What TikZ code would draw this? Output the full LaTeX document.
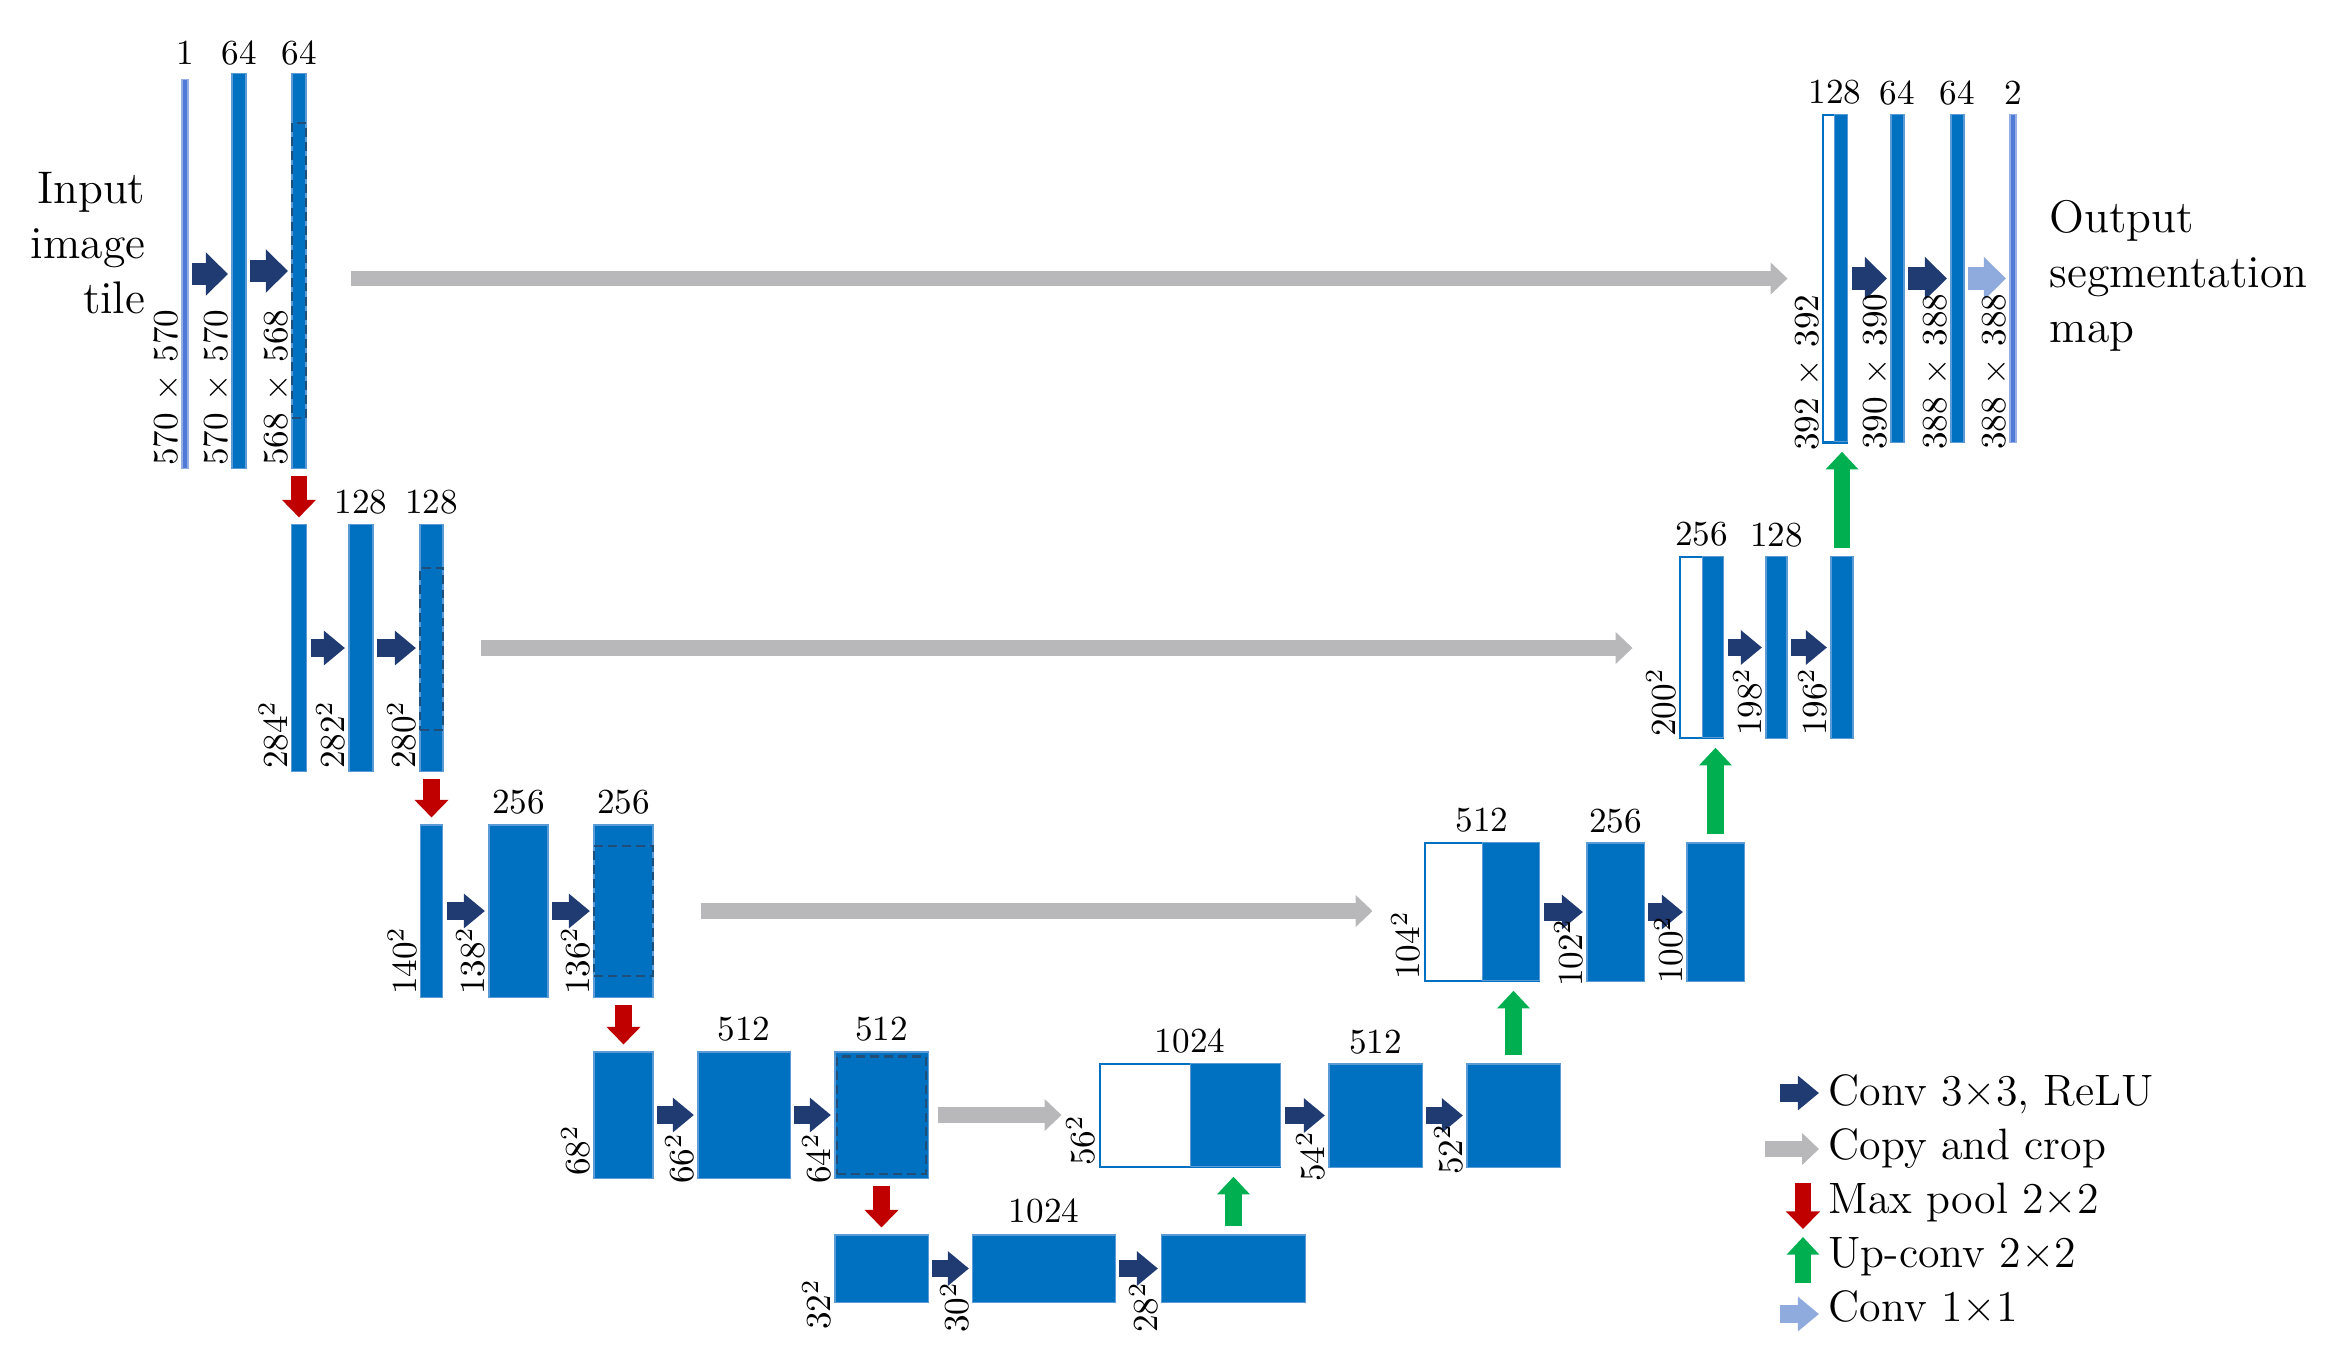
\documentclass[tikz,border=0pt]{standalone}
\usetikzlibrary{arrows.meta}

\definecolor{ublue}{HTML}{0070C0}
\definecolor{uedge}{HTML}{5B9BD5}
\definecolor{thinblue}{HTML}{4F7AD6}
\definecolor{cropblue}{HTML}{1F4E79}
\definecolor{convblue}{HTML}{203A72}
\definecolor{copygray}{HTML}{B8B8BA}
\definecolor{poolred}{HTML}{C00000}
\definecolor{upgreen}{HTML}{00B050}
\definecolor{outblue}{HTML}{8FAADC}

\tikzset{
  blk/.style={rectangle, fill=ublue, draw=uedge, line width=0.3pt, inner sep=0pt},
  thinblk/.style={rectangle, fill=thinblue, draw=thinblue!60!white, line width=0.3pt, inner sep=0pt},
  catbox/.style={rectangle, fill=white, draw=ublue, line width=0.8pt, inner sep=0pt},
  cropbox/.style={rectangle, draw=cropblue, dash pattern=on 2.5pt off 1.5pt, line width=0.6pt, inner sep=0pt},
  chlbl/.style={anchor=base, inner sep=0pt, font=\fontsize{10}{12}\selectfont},
  dimlbl/.style={rotate=90, anchor=south west, inner sep=0.6pt, font=\fontsize{10}{12}\selectfont},
  sidetxt/.style={inner sep=0pt, font=\fontsize{13}{15.6}\selectfont},
  legtxt/.style={anchor=base west, inner sep=0pt, font=\fontsize{12.5}{15}\selectfont},
  convarrow/.style={draw=convblue, line width=5pt, -{Triangle[length=6pt,width=9.5pt]}, shorten <=1pt, shorten >=1pt},
  convbig/.style={convarrow, line width=6.3pt, -{Triangle[length=6.3pt,width=12pt]}},
  outarrow/.style={convbig, draw=outblue},
  copyarrow/.style={draw=copygray, line width=4.3pt, -{Triangle[length=4.8pt,width=8.8pt]}},
  poolarrow/.style={draw=poolred, line width=4.8pt, -{Triangle[length=5pt,width=9.4pt]}, shorten <=0.07cm, shorten >=0.07cm},
  uparrow/.style={draw=upgreen, line width=4.8pt, -{Triangle[length=5pt,width=9pt]}, shorten <=0.08cm, shorten >=0.1cm},
}

\begin{document}
\begin{tikzpicture}[x=0.01cm, y=-0.01cm]
    \useasboundingbox (0,0) rectangle (2347,1356);

    % Contracting path, level 1
    \node[thinblk, minimum width=0.06cm, minimum height=3.88cm] (in0) at (185,274) {};
    \node[blk, minimum width=0.14cm, minimum height=3.94cm] (d1a) at (239,271) {};
    \node[blk, minimum width=0.14cm, minimum height=3.94cm] (d1b) at (299,271) {};
    \node[cropbox, minimum width=0.14cm, minimum height=2.95cm] (d1k) at (299,270.5) {};

    % Level 2
    \node[blk, minimum width=0.15cm, minimum height=2.46cm] (d2a) at (299,648) {};
    \node[blk, minimum width=0.24cm, minimum height=2.46cm] (d2b) at (361,648) {};
    \node[blk, minimum width=0.23cm, minimum height=2.46cm] (d2c) at (431.5,648) {};
    \node[cropbox, minimum width=0.23cm, minimum height=1.62cm] (d2k) at (431.5,649) {};

    % Level 3
    \node[blk, minimum width=0.22cm, minimum height=1.72cm] (d3a) at (431.5,911) {};
    \node[blk, minimum width=0.59cm, minimum height=1.72cm] (d3b) at (518.5,911) {};
    \node[blk, minimum width=0.59cm, minimum height=1.72cm] (d3c) at (623.5,911) {};
    \node[cropbox, minimum width=0.59cm, minimum height=1.30cm] (d3k) at (623.5,911) {};

    % Level 4
    \node[blk, minimum width=0.59cm, minimum height=1.26cm] (d4a) at (623.5,1115) {};
    \node[blk, minimum width=0.92cm, minimum height=1.26cm] (d4b) at (744,1115) {};
    \node[blk, minimum width=0.93cm, minimum height=1.26cm] (d4c) at (881.5,1115) {};
    \node[cropbox, minimum width=0.89cm, minimum height=1.17cm] (d4k) at (881.5,1115) {};

    % Bottom level
    \node[blk, minimum width=0.93cm, minimum height=0.67cm] (d5a) at (881.5,1268.5) {};
    \node[blk, minimum width=1.42cm, minimum height=0.67cm] (d5b) at (1044,1268.5) {};
    \node[blk, minimum width=1.43cm, minimum height=0.67cm] (d5c) at (1233.5,1268.5) {};

    % Expanding path, level 4
    \node[catbox, minimum width=1.80cm, minimum height=1.03cm] (u4) at (1190,1115.5) {};
    \node[blk, minimum width=0.90cm, minimum height=1.03cm, anchor=north east] (u4x) at (u4.north east) {};
    \node[blk, minimum width=0.93cm, minimum height=1.03cm] (u4b) at (1375.5,1115.5) {};
    \node[blk, minimum width=0.93cm, minimum height=1.03cm] (u4c) at (1513.5,1115.5) {};

    % Level 3
    \node[catbox, minimum width=1.14cm, minimum height=1.38cm] (u3) at (1482,912) {};
    \node[blk, minimum width=0.57cm, minimum height=1.38cm, anchor=north east] (u3x) at (u3.north east) {};
    \node[blk, minimum width=0.57cm, minimum height=1.38cm] (u3b) at (1615.5,912) {};
    \node[blk, minimum width=0.57cm, minimum height=1.38cm] (u3c) at (1715.5,912) {};

    % Level 2
    \node[catbox, minimum width=0.43cm, minimum height=1.81cm] (u2) at (1701.5,647.5) {};
    \node[blk, minimum width=0.21cm, minimum height=1.81cm, anchor=north east] (u2x) at (u2.north east) {};
    \node[blk, minimum width=0.21cm, minimum height=1.81cm] (u2b) at (1776.5,647.5) {};
    \node[blk, minimum width=0.22cm, minimum height=1.81cm] (u2c) at (1842,647.5) {};

    % Level 1
    \node[catbox, minimum width=0.24cm, minimum height=3.27cm] (u1) at (1835,278.5) {};
    \node[blk, minimum width=0.13cm, minimum height=3.27cm, anchor=north east] (u1x) at (u1.north east) {};
    \node[blk, minimum width=0.13cm, minimum height=3.27cm] (u1b) at (1897.5,278.5) {};
    \node[blk, minimum width=0.13cm, minimum height=3.27cm] (u1c) at (1957.5,278.5) {};
    \node[thinblk, minimum width=0.06cm, minimum height=3.27cm] (out) at (2013,278.5) {};

    % Conv 3x3 arrows
    \draw[convbig] (in0.east) -- (in0.east -| d1a.west);
    \draw[convbig] (d1a.east) -- (d1b.west);
    \draw[convarrow] (d2a.east) -- (d2b.west);
    \draw[convarrow] (d2b.east) -- (d2c.west);
    \draw[convarrow] (d3a.east) -- (d3b.west);
    \draw[convarrow] (d3b.east) -- (d3c.west);
    \draw[convarrow] (d4a.east) -- (d4b.west);
    \draw[convarrow] (d4b.east) -- (d4c.west);
    \draw[convarrow] (d5a.east) -- (d5b.west);
    \draw[convarrow] (d5b.east) -- (d5c.west);
    \draw[convarrow] (u4.east) -- (u4b.west);
    \draw[convarrow] (u4b.east) -- (u4c.west);
    \draw[convarrow] (u3.east) -- (u3b.west);
    \draw[convarrow] (u3b.east) -- (u3c.west);
    \draw[convarrow] (u2.east) -- (u2b.west);
    \draw[convarrow] (u2b.east) -- (u2c.west);
    \draw[convbig] (u1.east) -- (u1b.west);
    \draw[convbig] (u1b.east) -- (u1c.west);
    \draw[outarrow] (u1c.east) -- (out.west);

    % Max pool arrows
    \draw[poolarrow] (d1b.south) -- (d2a.north);
    \draw[poolarrow] (d2c.south) -- (d3a.north);
    \draw[poolarrow] (d3c.south) -- (d4a.north);
    \draw[poolarrow] (d4c.south) -- (d5a.north);

    % Up-conv arrows
    \draw[uparrow] (d5c.north) -- (d5c.north |- u4x.south);
    \draw[uparrow] (u4c.north) -- (u4c.north |- u3x.south);
    \draw[uparrow] (u3c.north) -- (u3c.north |- u2x.south);
    \draw[uparrow] (u2c.north) -- (u2c.north |- u1x.south);

    % Copy and crop arrows
    \draw[copyarrow, shorten <=0.44cm, shorten >=0.34cm] (d1b.east |- u1.west) -- (u1.west);
    \draw[copyarrow, shorten <=0.37cm, shorten >=0.46cm] (d2c.east) -- (d2c.east -| u2.west);
    \draw[copyarrow, shorten <=0.47cm, shorten >=0.51cm] (d3c.east) -- (d3c.east -| u3.west);
    \draw[copyarrow, shorten <=0.09cm, shorten >=0.37cm] (d4c.east) -- (d4c.east -| u4.west);

    % Channel numbers
    \node[chlbl] (c10) at ([yshift=0.15cm]in0.north) {1};
    \node[chlbl] (c11) at ([yshift=0.09cm]d1a.north) {64};
    \node[chlbl] (c12) at ([yshift=0.09cm]d1b.north) {64};
    \node[chlbl] (c21) at ([yshift=0.11cm]d2b.north) {128};
    \node[chlbl] (c22) at ([yshift=0.11cm]d2c.north) {128};
    \node[chlbl] (c31) at ([yshift=0.11cm]d3b.north) {256};
    \node[chlbl] (c32) at ([yshift=0.11cm]d3c.north) {256};
    \node[chlbl] (c41) at ([yshift=0.11cm]d4b.north) {512};
    \node[chlbl] (c42) at ([yshift=0.11cm]d4c.north) {512};
    \node[chlbl] (c51) at ([yshift=0.12cm]d5b.north) {1024};
    \node[chlbl] (e40) at ([yshift=0.1cm]u4.north) {1024};
    \node[chlbl] (e41) at ([yshift=0.1cm]u4b.north) {512};
    \node[chlbl] (e30) at ([yshift=0.1cm]u3.north) {512};
    \node[chlbl] (e31) at ([yshift=0.1cm]u3b.north) {256};
    \node[chlbl] (e20) at ([yshift=0.1cm]u2.north) {256};
    \node[chlbl] (e21) at ([yshift=0.1cm]u2b.north) {128};
    \node[chlbl] (e10) at ([yshift=0.1cm]u1.north) {128};
    \node[chlbl] (e11) at ([yshift=0.1cm]u1b.north) {64};
    \node[chlbl] (e12) at ([yshift=0.1cm]u1c.north) {64};
    \node[chlbl] (e13) at ([yshift=0.1cm]out.north) {2};

    % Feature map sizes
    \node[dimlbl] (s10) at (in0.south west) {570 × 570};
    \node[dimlbl] (s11) at (d1a.south west) {570 × 570};
    \node[dimlbl] (s12) at (d1b.south west) {568 × 568};
    \node[dimlbl] (s20) at (d2a.south west) {284$^2$};
    \node[dimlbl] (s21) at (d2b.south west) {282$^2$};
    \node[dimlbl] (s22) at (d2c.south west) {280$^2$};
    \node[dimlbl] (s30) at (d3a.south west) {140$^2$};
    \node[dimlbl] (s31) at (d3b.south west) {138$^2$};
    \node[dimlbl] (s32) at (d3c.south west) {136$^2$};
    \node[dimlbl] (s40) at (d4a.south west) {68$^2$};
    \node[dimlbl] (s41) at ([yshift=-0.08cm]d4b.south west) {66$^2$};
    \node[dimlbl] (s42) at ([yshift=-0.08cm]d4c.south west) {64$^2$};
    \node[dimlbl] (s50) at ([yshift=-0.3cm]d5a.south west) {32$^2$};
    \node[dimlbl] (s51) at ([yshift=-0.33cm]d5b.south west) {30$^2$};
    \node[dimlbl] (s52) at ([yshift=-0.33cm]d5c.south west) {28$^2$};
    \node[dimlbl] (r40) at (u4.south west) {56$^2$};
    \node[dimlbl] (r41) at ([yshift=-0.17cm]u4b.south west) {54$^2$};
    \node[dimlbl] (r42) at ([yshift=-0.1cm]u4c.south west) {52$^2$};
    \node[dimlbl] (r30) at (u3.south west) {104$^2$};
    \node[dimlbl] (r31) at ([yshift=-0.08cm]u3b.south west) {102$^2$};
    \node[dimlbl] (r32) at ([yshift=-0.05cm]u3c.south west) {100$^2$};
    \node[dimlbl] (r20) at (u2.south west) {200$^2$};
    \node[dimlbl] (r21) at (u2b.south west) {198$^2$};
    \node[dimlbl] (r22) at (u2c.south west) {196$^2$};
    \node[dimlbl] (r10) at ([yshift=-0.1cm]u1.south west) {392 × 392};
    \node[dimlbl] (r11) at ([yshift=-0.1cm]u1b.south west) {390 × 390};
    \node[dimlbl] (r12) at ([yshift=-0.1cm]u1c.south west) {388 × 388};
    \node[dimlbl] (r13) at ([yshift=-0.1cm]out.south west) {388 × 388};

    % Input and output text
    \node[sidetxt, anchor=east, align=right] (intxt) at (146,243) {Input\\image\\tile};
    \node[sidetxt, anchor=west, align=left] (outtxt) at (2049,276) {Output\\segmentation\\map};

    % Legend
    \node[legtxt] (l1) at (1828,1105) {Conv 3×3, ReLU};
    \node[legtxt] (l2) at (1828,1159) {Copy and crop};
    \node[legtxt] (l3) at (1828,1213) {Max pool 2×2};
    \node[legtxt] (l4) at (1828,1267) {Up-conv 2×2};
    \node[legtxt] (l5) at (1828,1321) {Conv 1×1};
    \coordinate (k1) at (1780,1093);
    \coordinate (k2) at (1765,1149);
    \coordinate (k3) at (1803,1183);
    \coordinate (k3e) at (1803,1229);
    \coordinate (k4) at (1803,1283);
    \coordinate (k4e) at (1803,1237);
    \coordinate (k5) at (1780,1314);
    \draw[convarrow, shorten <=0pt, shorten >=0.09cm] (k1) -- (k1 -| l1.west);
    \draw[copyarrow, shorten >=0.09cm] (k2) -- (k2 -| l2.west);
    \draw[poolarrow, shorten <=0pt, shorten >=0pt] (k3) -- (k3e);
    \draw[uparrow, shorten <=0pt, shorten >=0pt] (k4) -- (k4e);
    \draw[outarrow, line width=5pt, -{Triangle[length=6pt,width=9.5pt]}, shorten <=0pt, shorten >=0.09cm] (k5) -- (k5 -| l5.west);

\end{tikzpicture}
\end{document}
